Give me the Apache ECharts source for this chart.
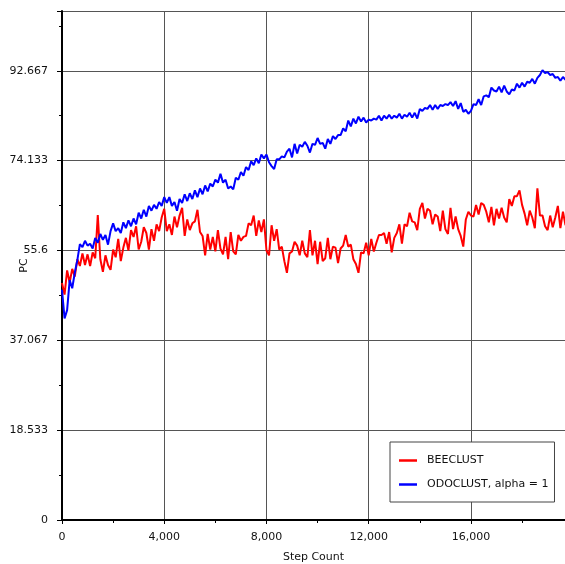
<!DOCTYPE html>
<html>
<head>
<meta charset="utf-8">
<script src="https://cdn.jsdelivr.net/npm/echarts@6/dist/echarts.min.js"></script>
<style>
  html, body { margin: 0; padding: 0; background: #fff; }
  #chart { width: 565px; height: 564px; }
</style>
</head>
<body>
<div id="chart"></div>
<script>
// Sampling grid: one recorded value every 100 simulation steps
const STEP_SIZE = 100;

// Percentage clustered (PC) recorded for each run
const beeclust = [
  48.9, 46.5, 51.5, 49.0, 51.8, 50.2, 53.8, 52.4, 55.0, 52.6,
  54.8, 52.4, 55.2, 54.0, 62.9, 53.8, 51.2, 54.6, 52.6, 51.6,
  55.8, 54.2, 58.0, 53.4, 56.2, 58.2, 55.6, 59.8, 58.4, 60.6,
  55.8, 57.4, 60.4, 59.2, 55.8, 60.0, 57.6, 61.0, 59.6, 62.4,
  64.2, 59.6, 61.0, 58.8, 62.6, 60.4, 62.8, 64.4, 58.6, 62.0,
  59.8, 61.2, 61.6, 64.0, 59.4, 58.6, 54.6, 59.0, 55.8, 58.4,
  55.4, 59.8, 56.0, 54.8, 58.4, 53.8, 59.4, 55.4, 54.8, 58.8,
  57.6, 58.4, 58.6, 61.2, 60.8, 62.8, 58.6, 61.8, 59.4, 62.0,
  55.6, 54.6, 60.8, 57.6, 60.0, 55.8, 56.4, 53.4, 51.0, 55.0,
  55.4, 57.4, 56.6, 54.6, 57.6, 55.0, 54.2, 59.8, 54.6, 57.6,
  52.8, 57.4, 53.4, 54.0, 58.2, 53.8, 56.4, 56.2, 53.0, 56.0,
  56.6, 58.8, 56.4, 56.8, 53.8, 52.8, 51.0, 55.2, 55.0, 57.2,
  54.6, 58.0, 55.4, 57.2, 58.8, 58.8, 59.2, 57.0, 59.4, 55.2,
  58.2, 59.2, 61.0, 57.0, 61.0, 60.6, 63.4, 61.6, 61.4, 59.8,
  64.2, 65.4, 62.2, 64.2, 63.8, 61.0, 63.0, 62.6, 59.6, 63.8,
  60.0, 59.0, 64.4, 60.0, 62.6, 60.0, 58.6, 56.4, 62.0, 63.6,
  62.8, 62.6, 65.0, 63.0, 65.4, 65.0, 63.6, 61.4, 64.6, 60.8,
  64.2, 62.2, 64.4, 62.4, 61.4, 66.2, 64.8, 66.8, 66.8, 68.0,
  65.0, 63.2, 60.8, 63.8, 62.4, 60.2, 68.4, 62.8, 62.8, 60.6,
  59.8, 62.8, 60.4, 62.4, 64.8, 60.2, 63.6, 60.8
];

const odoclust = [
  47.5, 41.6, 43.3, 49.5, 47.8, 51.0, 53.6, 56.9, 56.3, 57.6,
  56.6, 57.0, 56.0, 58.2, 57.2, 59.0, 57.8, 58.8, 56.8, 59.6,
  61.2, 59.6, 60.2, 59.2, 61.4, 60.2, 61.8, 60.6, 62.2, 61.0,
  63.4, 62.2, 64.0, 62.6, 64.8, 63.8, 65.0, 64.2, 65.6, 64.8,
  66.6, 65.4, 66.6, 64.8, 65.6, 63.8, 66.2, 65.4, 67.2, 65.8,
  67.4, 66.2, 68.0, 66.6, 68.4, 67.2, 69.0, 67.8, 69.4, 68.8,
  70.2, 69.6, 71.4, 69.6, 70.2, 68.4, 68.8, 68.2, 70.6, 70.2,
  71.8, 71.0, 72.8, 72.2, 74.0, 73.2, 74.6, 73.6, 75.4, 74.6,
  75.4, 73.8, 73.0, 72.4, 74.4, 74.4, 75.0, 74.8, 76.0, 76.6,
  74.8, 77.6, 75.6, 77.4, 77.0, 78.0, 77.2, 75.8, 77.6, 77.4,
  78.8, 77.6, 77.8, 76.6, 78.6, 77.6, 79.2, 78.6, 79.4, 79.4,
  80.8, 80.2, 82.4, 81.2, 82.8, 81.8, 83.2, 82.2, 83.0, 82.0,
  82.6, 82.4, 82.8, 82.6, 83.4, 82.4, 83.4, 82.8, 83.6, 82.8,
  83.4, 83.0, 83.8, 82.8, 83.6, 83.2, 84.0, 83.0, 84.0, 82.8,
  84.8, 84.4, 85.0, 84.8, 85.6, 84.6, 85.6, 84.8, 85.6, 85.4,
  85.8, 85.6, 86.2, 85.4, 86.4, 84.8, 86.0, 84.2, 84.6, 83.8,
  84.4, 85.8, 85.6, 86.8, 85.6, 87.4, 87.6, 87.2, 89.2, 88.6,
  88.4, 89.4, 88.2, 89.6, 88.4, 87.8, 88.8, 88.6, 90.0, 89.2,
  90.2, 89.4, 90.4, 90.2, 91.0, 90.0, 91.2, 91.8, 92.8, 92.2,
  92.4, 91.8, 92.0, 91.2, 91.4, 90.6, 91.4, 90.8
];

// Axis settings
const X_MAX = 19680;
const X_INTERVAL = 4000;
const Y_MAX = 105;
const Y_INTERVAL = 92.66667 / 5;

function toPairs(values) {
  return values.map((v, i) => [i * STEP_SIZE, v]);
}

const FONT = 'DejaVu Sans';
const LEGEND_ICON = 'path://M0,0H18V2.5H0Z';
const chart = echarts.init(document.getElementById('chart'), null, { renderer: 'canvas' });

chart.setOption({
  animation: false,
  backgroundColor: '#ffffff',
  textStyle: { fontFamily: FONT },
  grid: { left: 62, right: 0, top: 11, bottom: 44, containLabel: false, outerBoundsMode: 'none' },
  xAxis: {
    type: 'value',
    min: 0,
    max: X_MAX,
    interval: X_INTERVAL,
    name: 'Step Count',
    nameLocation: 'middle',
    nameGap: 32,
    nameMoveOverlap: false,
    nameTextStyle: { color: '#111', fontSize: 11, fontFamily: FONT },
    axisLine: { show: true, onZero: false, lineStyle: { color: '#000', width: 2 } },
    axisTick: { show: true, inside: false, length: 4, lineStyle: { color: '#000', width: 1 } },
    minorTick: { show: true, splitNumber: 2, length: 3, lineStyle: { color: '#000', width: 1 } },
    axisLabel: {
      color: '#111', fontSize: 11, fontFamily: FONT, margin: 12,
      showMaxLabel: false,
      formatter: v => v.toLocaleString('en-US')
    },
    splitLine: { show: true, lineStyle: { color: '#555', width: 1 } }
  },
  yAxis: {
    type: 'value',
    min: 0,
    max: Y_MAX,
    interval: Y_INTERVAL,
    name: 'PC',
    nameLocation: 'middle',
    nameGap: 32,
    nameMoveOverlap: false,
    nameTextStyle: { color: '#111', fontSize: 11, fontFamily: FONT },
    axisLine: { show: true, onZero: false, lineStyle: { color: '#000', width: 2 } },
    axisTick: { show: true, inside: false, length: 5, lineStyle: { color: '#000', width: 1 } },
    minorTick: { show: true, splitNumber: 2, length: 3, lineStyle: { color: '#000', width: 1 } },
    axisLabel: {
      color: '#111', fontSize: 11, fontFamily: FONT, margin: 14,
      showMaxLabel: false,
      formatter: v => String(Number(v.toFixed(3)))
    },
    splitLine: { show: true, lineStyle: { color: '#555', width: 1 } }
  },
  legend: {
    orient: 'vertical',
    left: 390,
    top: 442,
    padding: [13, 6, 12, 9],
    itemWidth: 18,
    itemHeight: 14,
    itemGap: 13,
    symbolKeepAspect: true,
    backgroundColor: '#ffffff',
    borderColor: '#444',
    borderWidth: 1,
    borderRadius: 0,
    textStyle: { color: '#111', fontSize: 11, fontFamily: FONT, padding: [0, 0, 0, 5] },
    data: [
      { name: 'BEECLUST', icon: LEGEND_ICON },
      { name: 'ODOCLUST, alpha = 1', icon: LEGEND_ICON }
    ]
  },
  series: [
    {
      name: 'BEECLUST',
      type: 'line',
      symbol: 'none',
      data: toPairs(beeclust),
      lineStyle: { color: '#ff0000', width: 2 },
      itemStyle: { color: '#ff0000' },
      clip: true
    },
    {
      name: 'ODOCLUST, alpha = 1',
      type: 'line',
      symbol: 'none',
      data: toPairs(odoclust),
      lineStyle: { color: '#0000ff', width: 2 },
      itemStyle: { color: '#0000ff' },
      clip: true
    }
  ]
});
</script>
</body>
</html>
